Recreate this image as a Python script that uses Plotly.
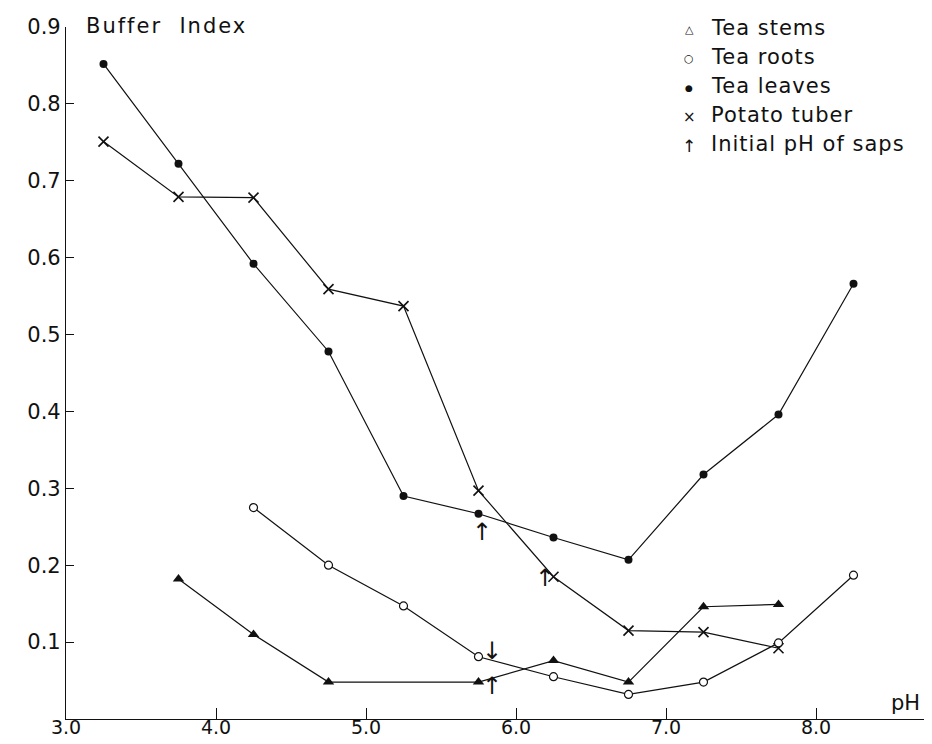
import plotly.graph_objects as go

# ---------------- data ----------------
ph_leaves = [3.25, 3.75, 4.25, 4.75, 5.25, 5.75, 6.25, 6.75, 7.25, 7.75, 8.25]
bi_leaves = [0.852, 0.722, 0.592, 0.478, 0.290, 0.267, 0.236, 0.207, 0.318, 0.396, 0.566]

ph_potato = [3.25, 3.75, 4.25, 4.75, 5.25, 5.75, 6.25, 6.75, 7.25, 7.75]
bi_potato = [0.751, 0.679, 0.678, 0.559, 0.537, 0.297, 0.185, 0.115, 0.113, 0.092]

ph_roots = [4.25, 4.75, 5.25, 5.75, 6.25, 6.75, 7.25, 7.75, 8.25]
bi_roots = [0.275, 0.200, 0.147, 0.081, 0.055, 0.032, 0.048, 0.099, 0.187]

ph_stems = [3.75, 4.25, 4.75, 5.75, 6.25, 6.75, 7.25, 7.75]
bi_stems = [0.182, 0.110, 0.048, 0.048, 0.076, 0.048, 0.146, 0.149]

# initial pH of saps (arrows): (pH, buffer index at arrow centre, direction)
arrow_ph = [5.77, 6.19, 5.84, 5.84]
arrow_bi = [0.243, 0.183, 0.088, 0.0435]
arrow_dir = ["↑", "↑", "↓", "↑"]

x_ticks = [3.0, 4.0, 5.0, 6.0, 7.0, 8.0]
y_ticks = [0.1, 0.2, 0.3, 0.4, 0.5, 0.6, 0.7, 0.8, 0.9]

legend_symbols = ["△", "○", "●", "×", "↑"]
legend_sizes = [11, 11, 9, 15, 17]
legend_labels = ["Tea stems", "Tea roots", "Tea leaves", "Potato tuber", "Initial pH of saps"]

# ---------------- figure ----------------
W, H = 932, 744
ML, MR, MT, MB = 58, 0, 19, 33
FONT = "DejaVu Sans"
INK = "#111111"

fig = go.Figure()
line = dict(color=INK, width=1.2)

fig.add_trace(go.Scatter(x=ph_leaves, y=bi_leaves, mode="lines+markers", line=line,
                         marker=dict(symbol="circle", size=8, color=INK)))
fig.add_trace(go.Scatter(x=ph_potato, y=bi_potato, mode="lines+markers", line=line,
                         marker=dict(symbol="x-thin", size=10, color=INK,
                                     line=dict(color=INK, width=1.6))))
fig.add_trace(go.Scatter(x=ph_roots, y=bi_roots, mode="lines+markers", line=line,
                         marker=dict(symbol="circle", size=8, color="white",
                                     line=dict(color=INK, width=1.2))))
fig.add_trace(go.Scatter(x=ph_stems, y=bi_stems, mode="lines+markers", line=line,
                         marker=dict(symbol="triangle-up", size=10, color=INK)))

for px, py, d in zip(arrow_ph, arrow_bi, arrow_dir):
    fig.add_annotation(x=px, y=py, xref="x", yref="y", text=d, showarrow=False,
                       xanchor="center", yanchor="middle",
                       font=dict(family="DejaVu Sans", size=24, color=INK))

def pxp(px):
    return (px - ML) / (W - ML - MR)

def pyp(py):
    return (H - MB - py) / (H - MT - MB)

rows = [20, 49, 78, 107, 136]
for sym, sz, lab, ry in zip(legend_symbols, legend_sizes, legend_labels, rows):
    fig.add_annotation(x=pxp(681), y=pyp(ry + 2), xref="paper", yref="paper", text=sym,
                       showarrow=False, xanchor="center", yanchor="middle",
                       font=dict(family="DejaVu Sans", size=sz, color=INK))
    fig.add_annotation(x=pxp(701), y=pyp(ry), xref="paper", yref="paper",
                       text='<span style="letter-spacing:1px">' + lab + "</span>",
                       showarrow=False, xanchor="left", yanchor="middle",
                       font=dict(family=FONT, size=21, color=INK))

fig.add_annotation(x=pxp(76), y=pyp(18), xref="paper", yref="paper",
                   text='<span style="letter-spacing:2px">Buffer  Index</span>',
                   showarrow=False, xanchor="left", yanchor="middle",
                   font=dict(family=FONT, size=21, color=INK))
fig.add_annotation(x=pxp(897), y=pyp(695), xref="paper", yref="paper", text="pH",
                   showarrow=False, xanchor="center", yanchor="middle",
                   font=dict(family=FONT, size=21, color=INK))

fig.update_layout(
    width=W, height=H,
    margin=dict(l=ML, r=MR, t=MT, b=MB, pad=0),
    paper_bgcolor="white", plot_bgcolor="white",
    showlegend=False,
    font=dict(family=FONT, size=21, color=INK),
)
fig.update_xaxes(range=[3.0, 3.0 + (W - ML - MR) / 150.0], tickvals=x_ticks,
                 ticktext=[f"{v:.1f}" for v in x_ticks],
                 showgrid=False, zeroline=False, showline=True, linecolor=INK, linewidth=1.2,
                 ticks="inside", ticklen=11, tickwidth=1.2, tickcolor=INK,
                 ticklabelstandoff=-9,
                 tickfont=dict(family=FONT, size=19, color=INK))
fig.update_yaxes(range=[0, 0.9], tickvals=y_ticks,
                 ticktext=[f"{v:.1f}" for v in y_ticks],
                 showgrid=False, zeroline=False, showline=True, linecolor=INK, linewidth=1.2,
                 ticks="inside", ticklen=8, tickwidth=1.2, tickcolor=INK,
                 tickfont=dict(family=FONT, size=21, color=INK))

fig.write_html("out.html")
